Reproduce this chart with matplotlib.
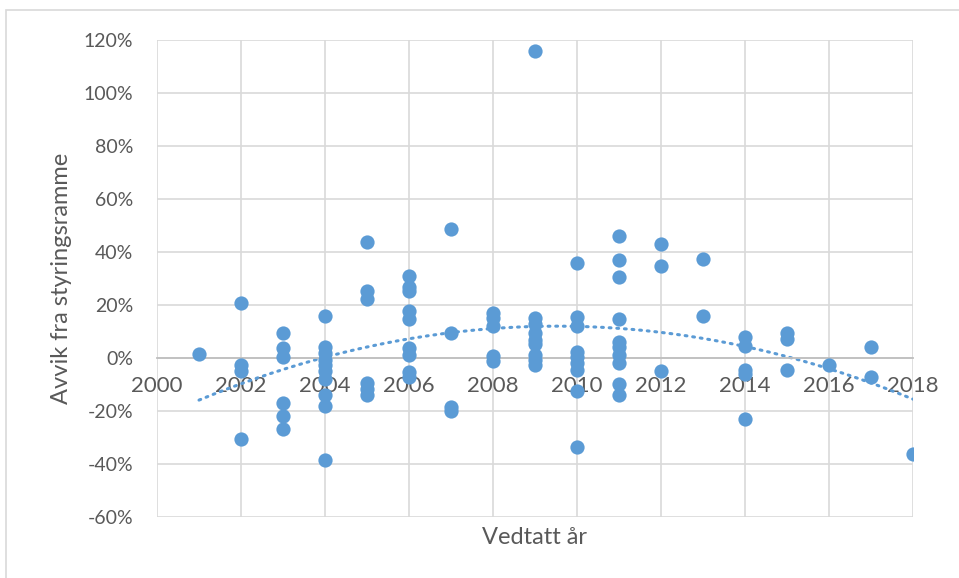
import numpy as np
import matplotlib.pyplot as plt
from matplotlib.patches import Rectangle
from matplotlib.ticker import FuncFormatter

# avvik (%) per vedtatt år, lest av figuren
years = [2001,
         2002, 2002, 2002, 2002,
         2003, 2003, 2003, 2003, 2003, 2003,
         2004, 2004, 2004, 2004, 2004, 2004, 2004, 2004, 2004, 2004,
         2005, 2005, 2005, 2005, 2005, 2005,
         2006, 2006, 2006, 2006, 2006, 2006, 2006, 2006, 2006,
         2007, 2007, 2007, 2007,
         2008, 2008, 2008, 2008, 2008,
         2009, 2009, 2009, 2009, 2009, 2009, 2009, 2009, 2009,
         2010, 2010, 2010, 2010, 2010, 2010, 2010, 2010, 2010,
         2011, 2011, 2011, 2011, 2011, 2011, 2011, 2011, 2011, 2011,
         2012, 2012, 2012,
         2013, 2013,
         2014, 2014, 2014, 2014, 2014,
         2015, 2015, 2015,
         2016,
         2017, 2017,
         2018]
avvik = [1.5,
         20.6, -2.6, -4.8, -30.6,
         9.5, 3.7, 0.5, -17.1, -21.8, -26.8,
         15.8, 4.3, 1.8, -0.8, -2.5, -5.0, -8.0, -14.0, -18.0, -38.5,
         43.9, 25.4, 22.1, -9.6, -11.8, -14.0,
         30.9, 26.9, 25.4, 17.7, 14.7, 3.7, 1.1, -5.2, -7.0,
         48.6, 9.5, -18.4, -19.9,
         17.0, 15.0, 12.1, 0.8, -1.0,
         115.8, 15.0, 12.8, 9.3, 6.8, 5.3, 1.1, -0.8, -2.6,
         35.7, 15.3, 12.1, 2.4, 0.5, -2.0, -4.5, -12.3, -33.7,
         46.2, 36.9, 30.6, 14.6, 6.2, 4.3, 1.1, -2.0, -9.8, -14.0,
         42.9, 34.7, -4.8,
         37.4, 16.0,
         8.0, 4.6, -4.5, -6.0, -23.0,
         9.3, 7.2, -4.5,
         -2.5,
         4.2, -7.0,
         -36.2]

blue = '#5B9BD5'
grey_txt = '#595959'

plt.rcParams['font.family'] = ['Lato', 'DejaVu Sans']

fig = plt.figure(figsize=(9.59, 5.78), dpi=100)
ax = fig.add_axes([157/959, 1-517/578, (913-157)/959, (517-40)/578])

x = np.array(years, dtype=float)
y = np.array(avvik) / 100

ax.scatter(x, y, s=105, color=blue, zorder=3, linewidths=0)

# polynomisk trendlinje (orden 2)
c = np.polyfit(x, y, 2)
xt = np.linspace(2001, 2018, 200)
ax.plot(xt, np.polyval(c, xt), color=blue, lw=2.2, ls=(0, (0.6, 1.9)),
        dash_capstyle='round', zorder=2)

ax.set_xlim(2000, 2018)
ax.set_ylim(-0.6, 1.2)
ax.set_xticks(np.arange(2000, 2019, 2))
ax.set_yticks(np.arange(-0.6, 1.21, 0.2))
ax.yaxis.set_major_formatter(FuncFormatter(lambda v, p: f'{v*100:.0f}%'))
ax.grid(True, color='#D9D9D9', lw=1.2)
ax.set_axisbelow(True)

for s in ['top', 'right', 'left']:
    ax.spines[s].set_visible(False)
ax.spines['bottom'].set_position(('data', 0))
ax.spines['bottom'].set_color('#BFBFBF')
ax.spines['bottom'].set_linewidth(1.3)
ax.tick_params(length=0, colors=grey_txt)
ax.tick_params(axis='x', pad=13, labelsize=16)
ax.tick_params(axis='y', pad=17, labelsize=14)
for lbl in ax.get_xticklabels():
    lbl.set_zorder(1)

ax.set_xlabel('Vedtatt år', fontsize=17, color=grey_txt)
ax.xaxis.set_label_coords(0.5, -0.02)
ax.set_ylabel('Avvik fra styringsramme', fontsize=17, color=grey_txt)
ax.yaxis.set_label_coords(-0.113, 0.5)

fig.patches.append(Rectangle((6/959, -0.1), 1.2, 1 - 10.5/578 + 0.1,
                             transform=fig.transFigure, fill=False,
                             edgecolor='#D9D9D9', lw=1.2))

fig.savefig('out.png', dpi=100)
